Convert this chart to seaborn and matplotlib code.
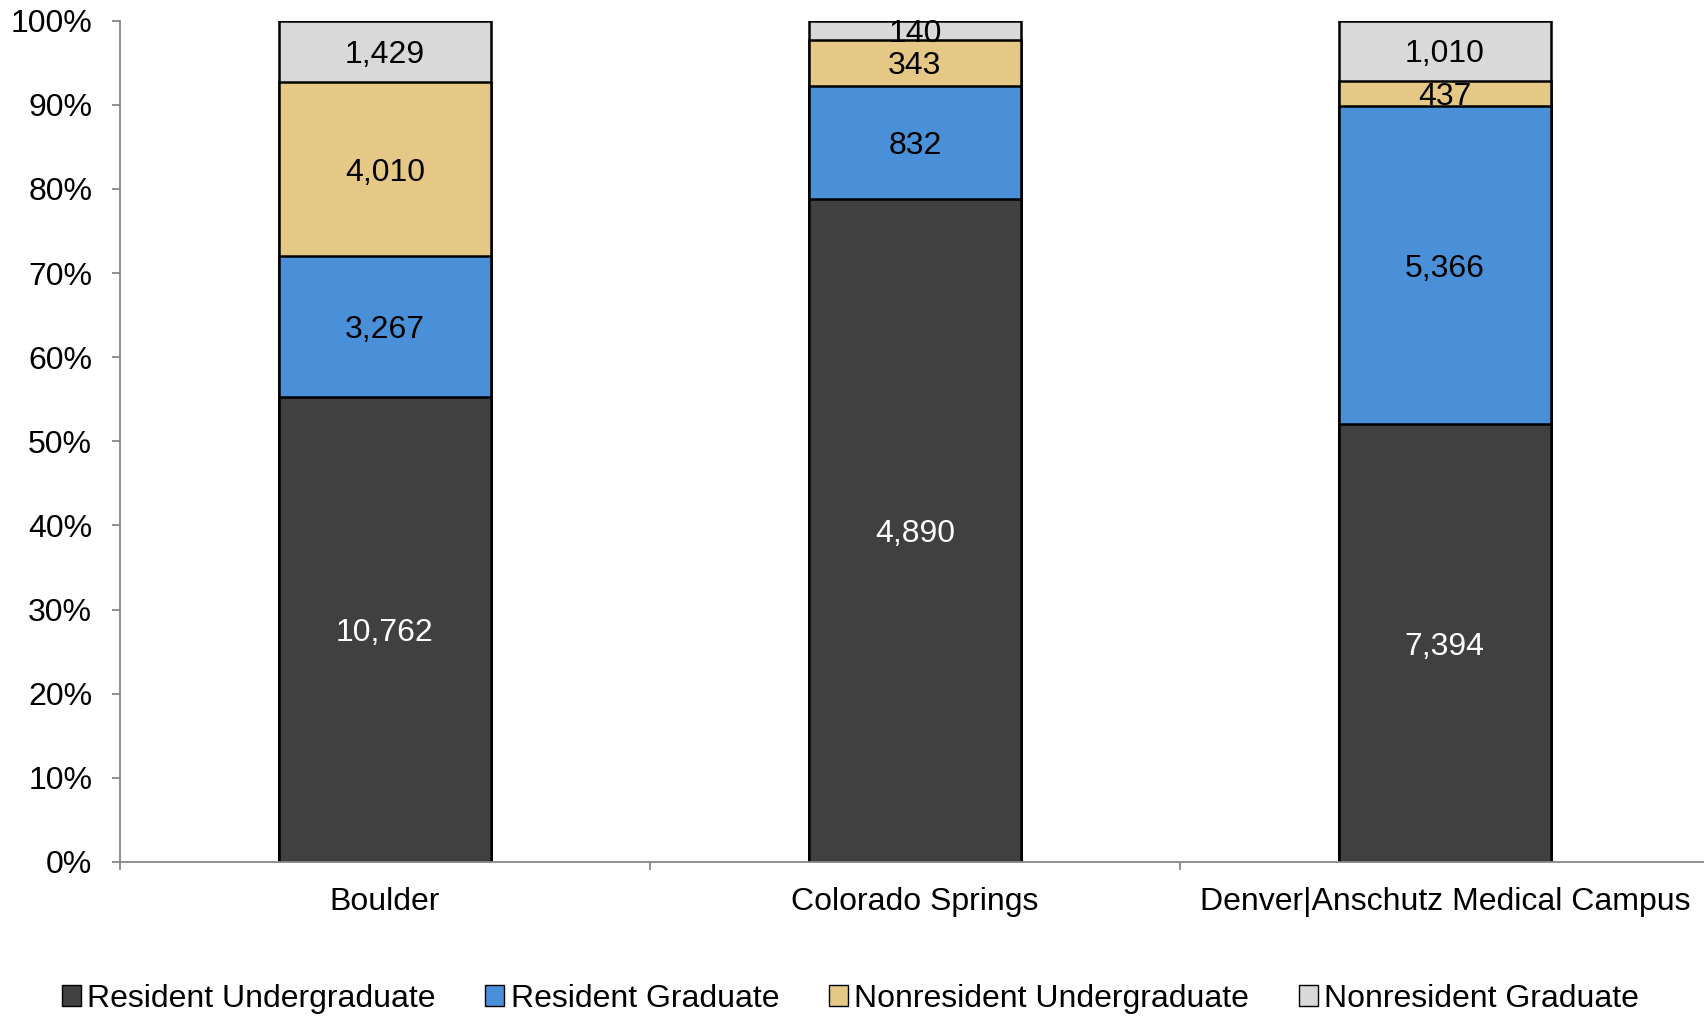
import numpy as np
import pandas as pd
import seaborn as sns
import matplotlib.pyplot as plt
from matplotlib.patches import Patch

campuses = ["Boulder", "Colorado Springs", "Denver|Anschutz Medical Campus"]
groups = ["Resident Undergraduate", "Resident Graduate", "Nonresident Undergraduate", "Nonresident Graduate"]
resident_ug = [10762, 4890, 7394]
resident_grad = [3267, 832, 5366]
nonres_ug = [4010, 343, 437]
nonres_grad = [1429, 140, 1010]
colors = ["#404040", "#4a90d9", "#e5c885", "#d9d9d9"]
text_colors = ["white", "black", "black", "black"]

sns.set_style("white")
plt.rcParams['font.family'] = ['Liberation Sans', 'DejaVu Sans']
plt.rcParams['text.color'] = 'black'
fs = 23

counts = np.array([resident_ug, resident_grad, nonres_ug, nonres_grad], dtype=float)
pct = counts / counts.sum(axis=0) * 100
cum = np.cumsum(pct, axis=0)

fig = plt.figure(figsize=(17.04, 10.16), dpi=100)
ax = fig.add_axes([0.0704, 0.1516, 0.9296, 0.828])

# stacked bars: draw cumulative heights from the top layer down
for i in range(len(groups) - 1, -1, -1):
    df = pd.DataFrame({"campus": campuses, "pct": cum[i]})
    sns.barplot(data=df, x="campus", y="pct", color=colors[i], width=0.4,
                edgecolor="black", linewidth=1.8, saturation=1, ax=ax)

# segment labels
for i in range(len(groups)):
    for j in range(len(campuses)):
        mid = cum[i, j] - pct[i, j] / 2
        ax.text(j, mid, f"{int(counts[i, j]):,}", ha="center", va="center_baseline",
                fontsize=fs, color=text_colors[i])

ax.set_ylim(0, 100)
ax.set_xlim(-0.5, 2.489)
ax.set_yticks(np.arange(0, 101, 10))
ax.set_yticklabels([f"{v}%" for v in range(0, 101, 10)], fontsize=fs)
ax.tick_params(axis="y", length=6, color="#888888", width=1.3, pad=14, left=True, labelcolor="black")
ax.set_xticks([0, 1, 2])
ax.set_xticklabels(campuses, fontsize=fs)
ax.tick_params(axis="x", which="major", length=0, pad=18, labelcolor="black")
ax.set_xticks([-0.5, 0.5, 1.5], minor=True)
ax.tick_params(axis="x", which="minor", length=6, color="#888888", width=1.3, bottom=True)
ax.set_xlabel("")
ax.set_ylabel("")
for s in ["top", "right"]:
    ax.spines[s].set_visible(False)
for s in ["left", "bottom"]:
    ax.spines[s].set_color("#888888")
    ax.spines[s].set_linewidth(1.3)

handles = [Patch(facecolor=c, edgecolor="black", linewidth=1) for c in colors]
fig.legend(handles, groups, loc="center", bbox_to_anchor=(0.499, 0.017), ncol=4,
           frameon=False, fontsize=fs, handlelength=0.6, handleheight=0.6,
           handletextpad=0.2, columnspacing=1.55, labelcolor="black",
           borderpad=0)

plt.savefig("out.png", dpi=100)
